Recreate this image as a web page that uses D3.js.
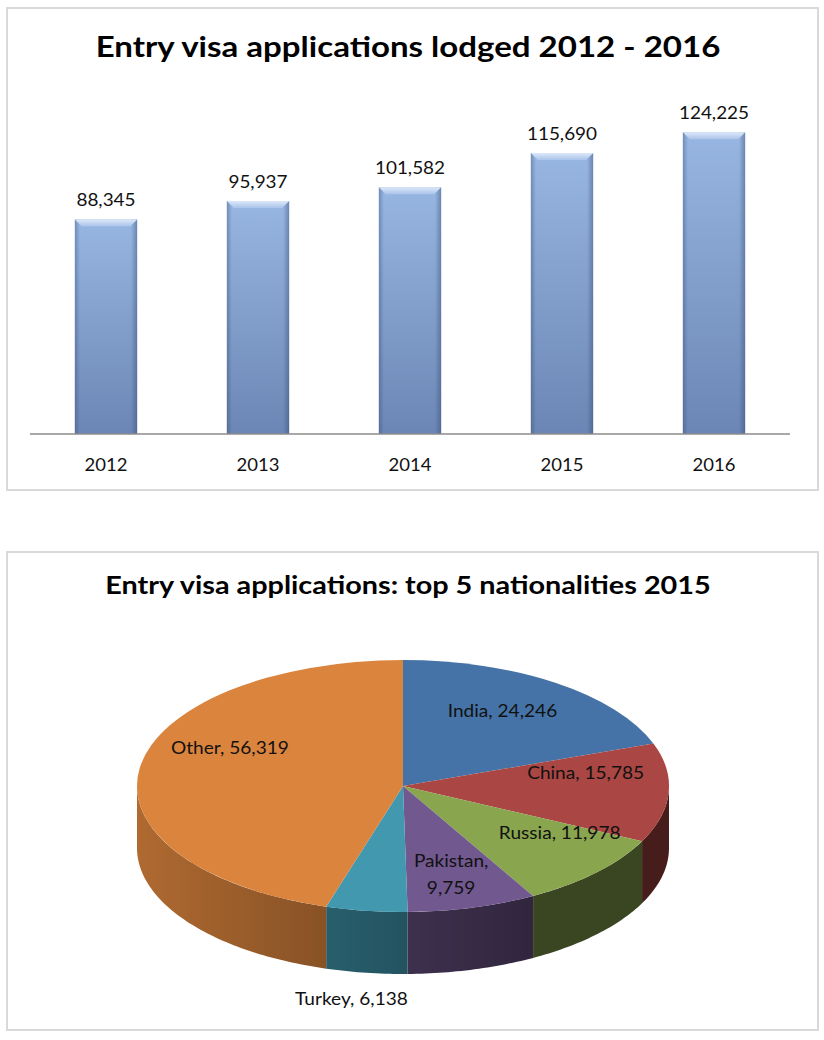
<!DOCTYPE html>
<html>
<head>
<meta charset="utf-8">
<script src="https://cdn.jsdelivr.net/npm/d3@7"></script>
<style>
  html, body { margin: 0; padding: 0; background: #fff; }
  svg { display: block; font-family: Lato, "Open Sans", sans-serif; }
</style>
</head>
<body>
<svg id="chart" width="824" height="1040"></svg>
<script>
// ---------- data ----------
const years = ["2012", "2013", "2014", "2015", "2016"];
const applications = [88345, 95937, 101582, 115690, 124225];

const nationalities = ["India", "China", "Russia", "Pakistan", "Turkey", "Other"];
const nationalityValues = [24246, 15785, 11978, 9759, 6138, 56319];
const sliceColors = ["#4572A7", "#AA4643", "#89A54E", "#71588F", "#4198AF", "#DB843D"];

const barTitle = "Entry visa applications lodged 2012 - 2016";
const pieTitle = "Entry visa applications: top 5 nationalities 2015";

// ---------- setup ----------
const svg = d3.select("#chart");
const fmt = d3.format(",");
const defs = svg.append("defs");

// horizontally widen text (reference glyphs are wide)
function stretch(sel, f) {
  sel.each(function () {
    const L = this.getComputedTextLength();
    d3.select(this).attr("textLength", L * f).attr("lengthAdjust", "spacingAndGlyphs");
  });
}

// panel frames
svg.append("rect").attr("x", 7).attr("y", 8).attr("width", 811).attr("height", 482)
  .attr("fill", "#fff").attr("stroke", "#d9d9d9").attr("stroke-width", 2);
svg.append("rect").attr("x", 7).attr("y", 552).attr("width", 811).attr("height", 478)
  .attr("fill", "#fff").attr("stroke", "#d9d9d9").attr("stroke-width", 2);

// ---------- bar chart ----------
svg.append("text").attr("x", 408).attr("y", 57).attr("text-anchor", "middle")
  .attr("font-size", 28).attr("font-weight", 700).attr("fill", "#000").text(barTitle)
  .call(stretch, 1.18);

const x = d3.scaleBand().domain(years).range([30, 790]).paddingInner(0.59).paddingOuter(0.295);
const y = d3.scaleLinear().domain([0, 140000]).range([434, 94]);

const gV = defs.append("linearGradient").attr("id", "barV").attr("x1", 0).attr("y1", 0).attr("x2", 0).attr("y2", 1);
gV.append("stop").attr("offset", "0%").attr("stop-color", "#98b6e2");
gV.append("stop").attr("offset", "100%").attr("stop-color", "#6b86b4");
const gH = defs.append("linearGradient").attr("id", "barH").attr("x1", 0).attr("y1", 0).attr("x2", 1).attr("y2", 0);
gH.append("stop").attr("offset", "0%").attr("stop-color", "#2a3f66").attr("stop-opacity", 0.35);
gH.append("stop").attr("offset", "8%").attr("stop-color", "#2a3f66").attr("stop-opacity", 0.0);
gH.append("stop").attr("offset", "90%").attr("stop-color", "#2a3f66").attr("stop-opacity", 0.0);
gH.append("stop").attr("offset", "100%").attr("stop-color", "#2a3f66").attr("stop-opacity", 0.4);
const gT = defs.append("linearGradient").attr("id", "barT").attr("x1", 0).attr("y1", 0).attr("x2", 0).attr("y2", 1);
gT.append("stop").attr("offset", "0%").attr("stop-color", "#dce8f8");
gT.append("stop").attr("offset", "100%").attr("stop-color", "#a9c3ea");

const bars = svg.append("g").selectAll("g").data(years.map((yr, i) => ({ yr, v: applications[i] }))).join("g");
bars.append("rect").attr("x", d => x(d.yr)).attr("y", d => y(d.v))
  .attr("width", x.bandwidth()).attr("height", d => y(0) - y(d.v)).attr("fill", "url(#barV)");
bars.append("rect").attr("x", d => x(d.yr)).attr("y", d => y(d.v))
  .attr("width", x.bandwidth()).attr("height", d => y(0) - y(d.v)).attr("fill", "url(#barH)");
bars.append("path").attr("fill", "url(#barT)").attr("d", d => {
  const x0 = x(d.yr), x1 = x0 + x.bandwidth(), t = y(d.v), b = 7;
  return `M${x0},${t}L${x1},${t}L${x1 - b},${t + b}L${x0 + b},${t + b}Z`;
});
bars.append("text").attr("x", d => x(d.yr) + x.bandwidth() / 2).attr("y", d => y(d.v) - 13)
  .attr("text-anchor", "middle").attr("font-size", 17.5).attr("fill", "#111").text(d => fmt(d.v))
  .call(stretch, 1.08);

// axis
const xAxis = svg.append("g").attr("transform", `translate(0,${y(0)})`)
  .call(d3.axisBottom(x).tickSize(0).tickPadding(25));
xAxis.select(".domain").attr("stroke", "#8c8c8c").attr("stroke-width", 1.5).attr("d", "M30,0H790");
xAxis.selectAll("text").attr("font-size", 16.5).attr("fill", "#111").attr("font-family", "Lato, sans-serif")
  .call(stretch, 1.12);

// ---------- 3D pie ----------
svg.append("text").attr("x", 408).attr("y", 594).attr("text-anchor", "middle")
  .attr("font-size", 24).attr("font-weight", 700).attr("fill", "#000").text(pieTitle)
  .call(stretch, 1.2);

const cx = 403, cy = 786, rx = 266, ry = 126, depth = 62;
const pieData = d3.pie().sort(null).value(d => d.v)(nationalities.map((n, i) => ({ n, v: nationalityValues[i], c: sliceColors[i] })));

const pt = (a, dy = 0) => [cx + rx * Math.sin(a), cy - ry * Math.cos(a) + dy];
const shade = (col, a) => {
  const f = Math.max(0.42, Math.min(0.8, 0.55 - 0.25 * Math.sin(a)));
  const c = d3.rgb(col);
  return d3.rgb(c.r * f, c.g * f, c.b * f).formatHex();
};

const sides = svg.append("g");
const step = Math.PI / 180;
pieData.forEach((d, i) => {
  const a0 = Math.max(d.startAngle, Math.PI / 2), a1 = Math.min(d.endAngle, 3 * Math.PI / 2);
  if (a1 <= a0) return;
  const n = Math.max(2, Math.ceil((a1 - a0) / step));
  const angles = d3.range(n + 1).map(k => a0 + (a1 - a0) * k / n);
  const xa = pt(a0)[0], xb = pt(a1)[0];
  const g = defs.append("linearGradient").attr("id", "side" + i)
    .attr("gradientUnits", "userSpaceOnUse").attr("x1", xa).attr("y1", 0).attr("x2", xb).attr("y2", 0);
  angles.forEach(a => {
    const off = Math.abs(xb - xa) < 0.01 ? 0 : (pt(a)[0] - xa) / (xb - xa);
    g.append("stop").attr("offset", Math.max(0, Math.min(1, off))).attr("stop-color", shade(d.data.c, a));
  });
  const poly = angles.map(a => pt(a)).concat(angles.slice().reverse().map(a => pt(a, depth)));
  sides.append("path").attr("d", d3.line()(poly) + "Z").attr("fill", `url(#side${i})`);
});

const arc = d3.arc().innerRadius(0).outerRadius(rx);
svg.append("g").attr("transform", `translate(${cx},${cy}) scale(1,${ry / rx})`)
  .selectAll("path").data(pieData).join("path")
  .attr("d", arc).attr("fill", d => d.data.c);

// labels
const labelNudge = { India: [0, -9], China: [10, -18], Russia: [31, -10], Pakistan: [3, 6], Turkey: [-15, 25], Other: [-2, -27] };
const labels = svg.append("g").attr("font-size", 18).attr("fill", "#111").attr("text-anchor", "middle");
pieData.forEach(d => {
  const mid = (d.startAngle + d.endAngle) / 2;
  const nd = labelNudge[d.data.n] || [0, 0];
  let p;
  if (d.data.n === "Turkey") p = pt(mid, depth);
  else p = [cx + 0.65 * rx * Math.sin(mid), cy - 0.65 * ry * Math.cos(mid)];
  const lx = p[0] + nd[0], ly = p[1] + nd[1];
  const t = labels.append("text").attr("x", lx).attr("y", ly).attr("dominant-baseline", "central");
  if (d.data.n === "Pakistan") {
    t.append("tspan").attr("x", lx).attr("dy", "-0.6em").text(d.data.n + ",");
    t.append("tspan").attr("x", lx).attr("dy", "1.5em").text(fmt(d.data.v));
    stretch(t.selectAll("tspan"), 1.06);
  } else {
    t.text(`${d.data.n}, ${fmt(d.data.v)}`);
    stretch(t, 1.06);
  }
});
</script>
</body>
</html>
